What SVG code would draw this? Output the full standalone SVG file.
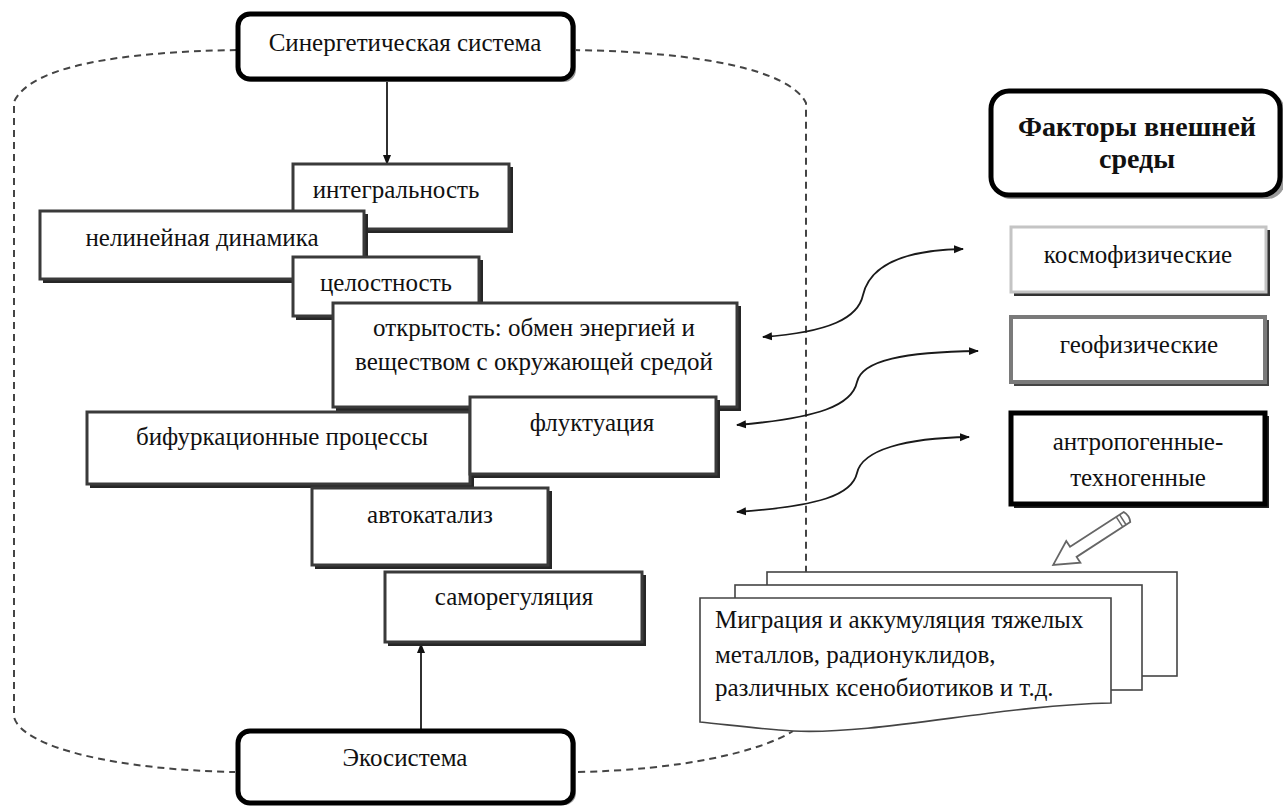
<svg xmlns="http://www.w3.org/2000/svg" width="1283" height="807" viewBox="0 0 1283 807">
<defs>
<style>
text{font-size:25px;fill:#111}
.c{text-anchor:middle}
.b{font-weight:bold;font-size:28px}
.shadow{fill:#262626}
.box{fill:#fff;stroke:#3a3a3a;stroke-width:3}
.rbox{fill:#fff;stroke:#000;stroke-width:5}
.rsh{fill:#9a9a9a}
.dash{fill:none;stroke:#444;stroke-width:2;stroke-dasharray:7 5}
.con{fill:none;stroke:#1a1a1a;stroke-width:1.8}
.page{fill:#fff;stroke:#444;stroke-width:1.6}
</style>
<marker id="ah" viewBox="0 0 10 10" refX="9" refY="5" markerWidth="10" markerHeight="10" markerUnits="userSpaceOnUse" orient="auto-start-reverse">
<path d="M0,1 L10,5 L0,9 Z" fill="#111"/>
</marker>
</defs>
<rect width="1283" height="807" fill="#fff"/>

<g id="container">
<path class="dash" d="M237,50 C120,52 30,66 14,102 L14,717 C22,748 120,770 235,772"/>
<path class="dash" d="M573,50 C700,52 790,70 806,103 L806,572"/>
<path class="dash" d="M578,772 C680,770 760,752 793,731"/>
</g>

<g id="connectors">
<line class="con" x1="387" y1="80" x2="387" y2="164" marker-end="url(#ah)"/>
<line class="con" x1="421" y1="730" x2="421" y2="644" marker-end="url(#ah)"/>
<path class="con" d="M763,337 C830,332 858,318 863,295 C870,265 905,250 963,249" marker-start="url(#ah)" marker-end="url(#ah)"/>
<path class="con" d="M737,425 C820,418 852,405 857,382 C862,360 905,352 978,351" marker-start="url(#ah)" marker-end="url(#ah)"/>
<path class="con" d="M737,512 C820,506 852,495 857,473 C862,450 905,438 969,437" marker-start="url(#ah)" marker-end="url(#ah)"/>
</g>

<g font-family="Liberation Serif, DejaVu Serif, serif">
<g id="synergetic">
<rect class="rsh" x="240" y="16" width="336" height="66" rx="12"/>
<rect class="rbox" x="238" y="14" width="335" height="65" rx="12"/>
<text class="c" x="405" y="51">Синергетическая система</text>
</g>

<g id="integralnost">
<rect class="shadow" x="296" y="167" width="217" height="66"/>
<rect class="box" x="293" y="164" width="216" height="65"/>
<text class="c" x="396" y="198">интегральность</text>
</g>

<g id="nelineinaya">
<rect class="shadow" x="43" y="214" width="325" height="69"/>
<rect class="box" x="40" y="211" width="324" height="68"/>
<text class="c" x="202" y="246">нелинейная динамика</text>
</g>

<g id="celostnost">
<rect class="shadow" x="296" y="260" width="187" height="60"/>
<rect class="box" x="293" y="257" width="186" height="59"/>
<text class="c" x="386" y="291">целостность</text>
</g>

<g id="otkrytost">
<rect class="shadow" x="336" y="306" width="405" height="105"/>
<rect class="box" x="333" y="303" width="404" height="104"/>
<text class="c" x="534" y="336">открытость: обмен энергией и</text>
<text class="c" x="534" y="370">веществом с окружающей средой</text>
</g>

<g id="bifurkacii">
<rect class="shadow" x="90" y="415" width="384" height="73"/>
<rect class="box" x="87" y="412" width="383" height="72"/>
<text class="c" x="282" y="445">бифуркационные процессы</text>
</g>

<g id="fluktuaciya">
<rect class="shadow" x="473" y="400" width="247" height="78"/>
<rect class="box" x="470" y="397" width="246" height="77"/>
<text class="c" x="592" y="431">флуктуация</text>
</g>

<g id="avtokataliz">
<rect class="shadow" x="315" y="491" width="237" height="78"/>
<rect class="box" x="312" y="488" width="236" height="77"/>
<text class="c" x="430" y="523">автокатализ</text>
</g>

<g id="samoregulyaciya">
<rect class="shadow" x="388" y="575" width="258" height="71"/>
<rect class="box" x="385" y="572" width="257" height="70"/>
<text class="c" x="514" y="605">саморегуляция</text>
</g>

<g id="ekosistema">
<rect class="rsh" x="240" y="733" width="336" height="72" rx="12"/>
<rect class="rbox" x="238" y="731" width="335" height="72" rx="12"/>
<text class="c" x="405" y="766">Экосистема</text>
</g>

<g id="faktory">
<rect class="rsh" x="993" y="93" width="292" height="106" rx="18"/>
<rect class="rbox" x="991" y="91" width="289" height="104" rx="18"/>
<text class="c b" x="1137" y="136">Факторы внешней</text>
<text class="c b" x="1137" y="168">среды</text>
</g>

<g id="kosmofizicheskie">
<rect x="1014" y="230" width="256" height="66" fill="#333"/>
<rect x="1011" y="227" width="255" height="65" fill="#fff" stroke="#c4c4c4" stroke-width="3"/>
<text class="c" x="1138" y="263">космофизические</text>
</g>

<g id="geofizicheskie">
<rect x="1014" y="320" width="255" height="66" fill="#444"/>
<rect x="1011" y="317" width="254" height="65" fill="#fff" stroke="#7a7a7a" stroke-width="4"/>
<text class="c" x="1139" y="353">геофизические</text>
</g>

<g id="antropogennye">
<rect x="1014" y="416" width="255" height="92" fill="#222"/>
<rect x="1011" y="413" width="254" height="91" fill="#fff" stroke="#000" stroke-width="5"/>
<text class="c" x="1138" y="450">антропогенные-</text>
<text class="c" x="1138" y="486">техногенные</text>
</g>

<g id="pencil-arrow" transform="translate(1127,517) rotate(147)">
<path d="M0,-6 L64,-6 L64,-13 L88,0 L64,13 L64,6 L0,6 Q-3,0 0,-6 Z" fill="#fff" stroke="#666" stroke-width="1.8"/>
<line x1="5" y1="-6" x2="5" y2="6" stroke="#666" stroke-width="1.5"/>
<line x1="9" y1="-6" x2="9" y2="6" stroke="#666" stroke-width="1.5"/>
</g>

<g id="document">
<rect class="page" x="767" y="572" width="410" height="104"/>
<rect class="page" x="735" y="585" width="407" height="105"/>
<path class="page" d="M700,598 H1111 V703 C1000,705 880,735 793,731 C760,729 730,725 700,722 Z"/>
<text x="715" y="628">Миграция и аккумуляция тяжелых</text>
<text x="715" y="663">металлов, радионуклидов,</text>
<text x="715" y="696">различных ксенобиотиков и т.д.</text>
</g>
</g>
</svg>
